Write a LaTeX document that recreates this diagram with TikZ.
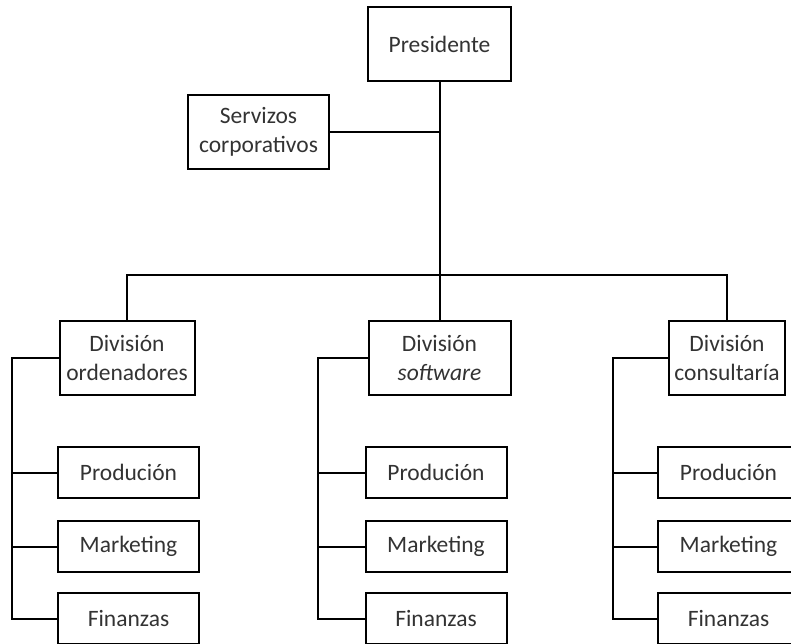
\documentclass[tikz,border=0pt]{standalone}
\usepackage{fontspec}
\setmainfont{Carlito}
\begin{document}
\begin{tikzpicture}[x=1pt,y=-1pt,
  box/.style={draw=black,line width=2pt,inner sep=0pt,align=center,
    text=black!80,font=\fontsize{23.5}{28.5}\selectfont},
  link/.style={draw=black,line width=2pt}]
\useasboundingbox (0,0) rectangle (791,643);
\clip (0,0) rectangle (791,643);
\node[box,minimum width=143,minimum height=74] (pres) at (439.5,44) {Presidente};
\node[box,minimum width=141,minimum height=74] (serv) at (258.5,132) {Servizos\\corporativos};
\node[box,minimum width=135,minimum height=74] (d1) at (127,358) {División\\ordenadores};
\node[box,minimum width=142,minimum height=74] (d2) at (439.5,358) {División\\\textit{software}};
\node[box,minimum width=116,minimum height=74] (d3) at (727,358) {División\\consultaría};
\foreach \n/\cx in {a/128.5,b/436,c/728.5}{
  \node[box,minimum width=141,minimum height=51] (p\n) at (\cx,472.5) {Produción};
  \node[box,minimum width=141,minimum height=51] (m\n) at (\cx,546.5) {Marketing};
  \node[box,minimum width=141,minimum height=51] (f\n) at (\cx,618.5) {Finanzas};
}
\coordinate (bar) at (439.5,275);
\coordinate (sa) at (12,0);
\coordinate (sb) at (318,0);
\coordinate (sc) at (613,0);
\draw[link] (pres.south) -- (bar) -- (d2.north);
\draw[link] (serv.east) -- (serv.east -| pres.south);
\draw[link] (d1.north) |- (bar) -| (d3.north);
\draw[link] (d1.west) -- (d1.west -| sa) |- (fa.west);
\draw[link] (pa.west) -- (pa.west -| sa);
\draw[link] (ma.west) -- (ma.west -| sa);
\draw[link] (d2.west) -- (d2.west -| sb) |- (fb.west);
\draw[link] (pb.west) -- (pb.west -| sb);
\draw[link] (mb.west) -- (mb.west -| sb);
\draw[link] (d3.west) -- (d3.west -| sc) |- (fc.west);
\draw[link] (pc.west) -- (pc.west -| sc);
\draw[link] (mc.west) -- (mc.west -| sc);
\end{tikzpicture}
\end{document}
